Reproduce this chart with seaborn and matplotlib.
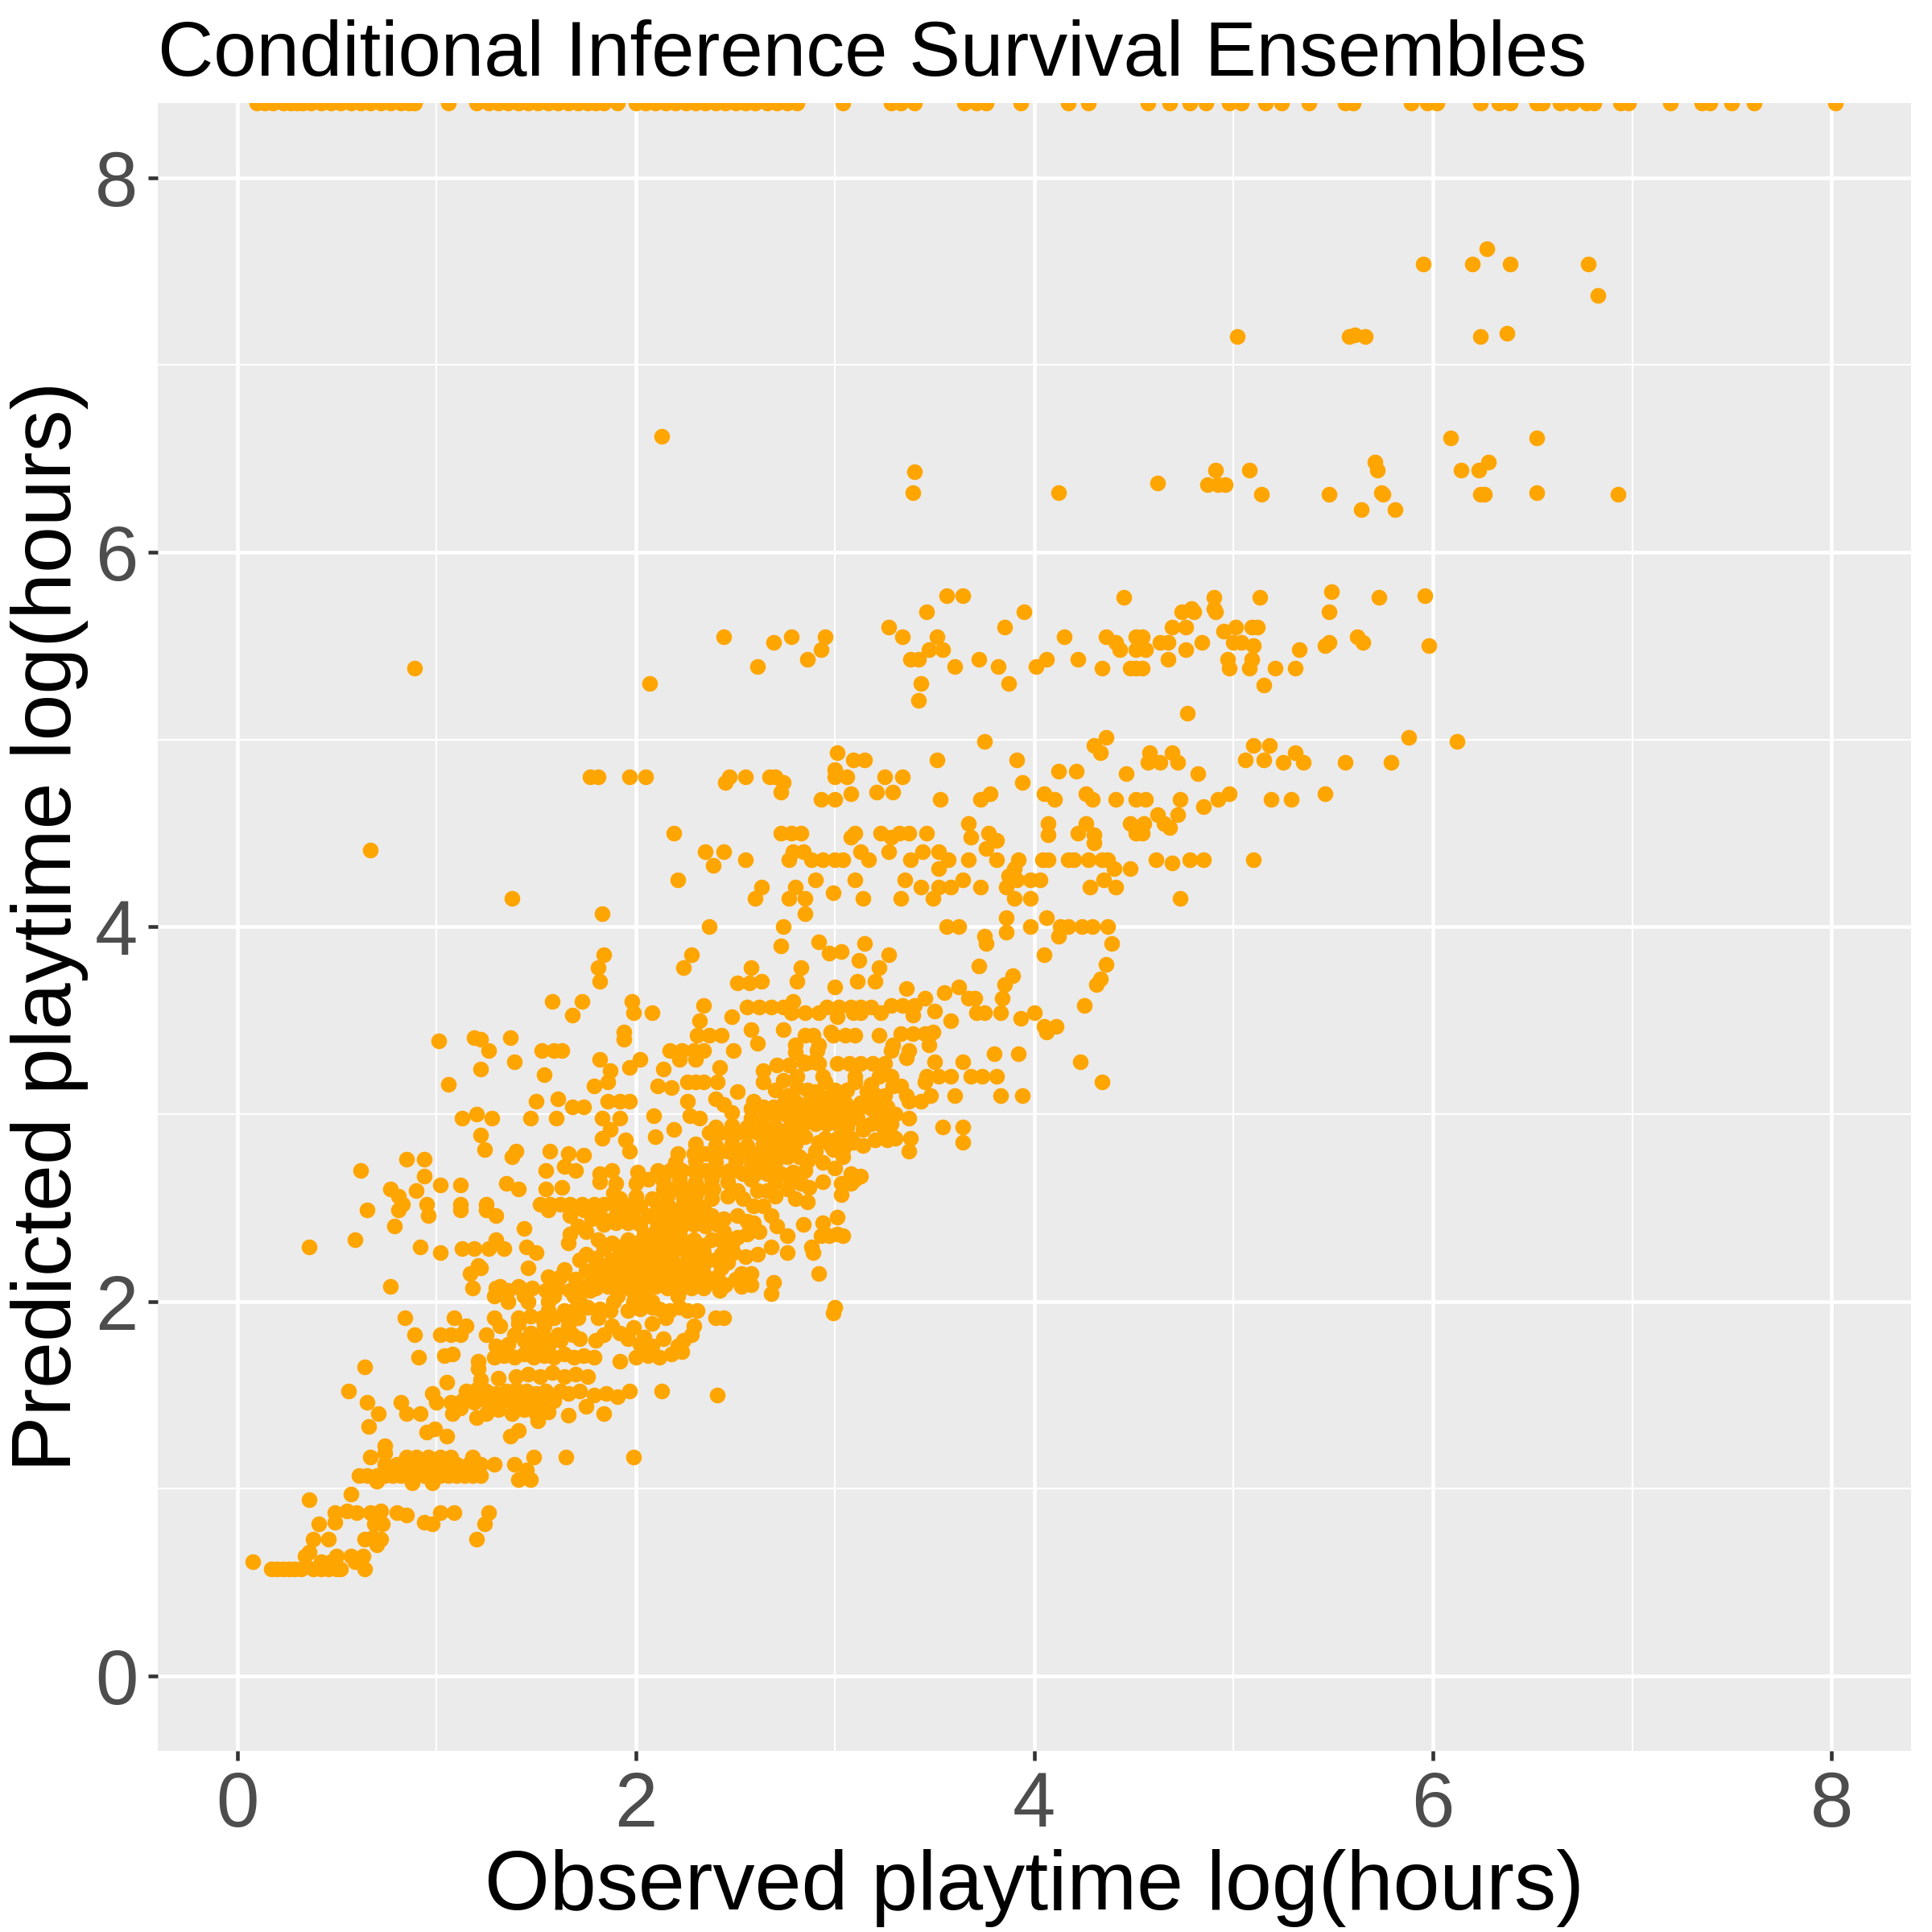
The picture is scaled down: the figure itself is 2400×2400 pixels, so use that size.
import matplotlib
matplotlib.use("Agg")
import matplotlib.pyplot as plt
import seaborn as sns
import pandas as pd

# predictions that ran past the top of the scale (drawn squished at the edge)
capped_pred = 8.4
capped_obs = [0.10, 0.14, 0.18, 0.23, 0.27, 0.30, 0.33, 0.37, 0.42, 0.47, 0.52, 0.57, 0.62,
              0.67, 0.72, 0.77, 0.82, 0.86, 0.89, 1.06, 1.20, 1.26, 1.31, 1.36, 1.41, 1.46,
              1.51, 1.56, 1.61, 1.66, 1.71, 1.76, 1.80, 1.84, 1.91, 2.00, 2.05, 2.10, 2.15,
              2.20, 2.25, 2.30, 2.35, 2.40, 2.45, 2.50, 2.55, 2.60, 2.66, 2.71, 2.76, 2.81,
              3.04, 3.28, 3.33, 3.40, 3.65, 3.71, 3.76, 3.93, 4.17, 4.27, 4.57, 4.68, 4.78,
              4.86, 4.98, 5.04, 5.16, 5.24, 5.38, 5.56, 5.60, 5.89, 5.97, 6.02, 6.24, 6.33,
              6.39, 6.52, 6.55, 6.64, 6.70, 6.77, 6.81, 6.94, 6.98, 7.19, 7.35, 7.39, 7.50,
              7.61, 8.02]

# (observed, predicted) pairs, grouped by rough predicted level
low_pts = [
    (0.08, 0.61), (0.17, 0.57), (0.20, 0.57), (0.23, 0.57), (0.26, 0.57), (0.29, 0.57),
    (0.32, 0.57), (0.38, 0.57), (0.42, 0.57), (0.46, 0.57), (0.50, 0.57), (0.52, 0.57),
    (0.64, 0.57), (0.34, 0.64), (0.42, 0.61), (0.47, 0.61), (0.50, 0.64), (0.57, 0.64),
    (0.59, 0.61), (0.63, 0.64), (0.36, 0.66), (0.38, 0.73), (0.46, 0.73), (0.64, 0.73),
    (0.68, 0.74), (0.72, 0.73), (0.70, 0.70), (1.20, 0.73), (0.41, 0.81), (0.49, 0.82),
    (0.69, 0.81), (0.73, 0.81), (0.94, 0.82), (0.98, 0.81), (1.24, 0.81), (0.49, 0.87),
    (0.55, 0.88), (0.60, 0.87), (0.67, 0.87), (0.72, 0.88), (0.80, 0.87), (0.85, 0.86),
    (1.02, 0.87), (1.09, 0.87), (1.26, 0.87), (0.36, 0.94), (0.57, 0.97),
]

lower_pts = [
    (0.61, 1.07), (0.65, 1.07), (0.70, 1.07), (0.74, 1.07), (0.78, 1.07), (0.82, 1.07),
    (0.86, 1.07), (0.90, 1.07), (0.94, 1.07), (0.98, 1.07), (1.02, 1.07), (1.06, 1.07),
    (1.10, 1.07), (1.14, 1.07), (1.18, 1.07), (1.22, 1.07), (1.41, 1.05), (1.47, 1.05),
    (0.70, 1.04), (0.88, 1.03), (0.98, 1.03), (0.74, 1.13), (0.80, 1.13), (0.86, 1.13),
    (0.92, 1.13), (0.98, 1.13), (1.04, 1.13), (1.10, 1.13), (1.16, 1.13), (1.22, 1.13),
    (1.29, 1.13), (1.39, 1.13), (1.45, 1.10), (0.67, 1.17), (0.74, 1.19), (0.85, 1.17),
    (0.90, 1.17), (0.96, 1.17), (1.02, 1.17), (1.07, 1.17), (1.18, 1.17), (1.49, 1.17),
    (1.65, 1.17), (1.99, 1.17), (0.74, 1.23), (0.95, 1.30), (0.99, 1.32), (1.05, 1.28),
    (1.37, 1.28), (1.41, 1.31), (0.66, 1.33), (1.51, 1.36), (0.71, 1.40), (0.85, 1.40),
    (0.92, 1.40), (1.08, 1.40), (1.20, 1.38), (1.25, 1.40), (1.31, 1.42), (1.38, 1.40),
    (1.44, 1.42), (1.50, 1.40), (1.56, 1.41), (1.66, 1.39), (1.84, 1.40), (1.12, 1.43),
    (0.65, 1.46), (0.82, 1.46), (1.00, 1.46), (1.07, 1.46), (1.13, 1.47), (1.19, 1.46),
    (1.25, 1.47), (1.31, 1.46), (1.37, 1.47), (1.43, 1.46), (1.49, 1.45), (1.55, 1.46),
    (1.59, 1.47), (1.75, 1.44), (0.56, 1.52), (0.98, 1.51), (1.15, 1.52), (1.20, 1.53),
    (1.25, 1.52), (1.30, 1.51), (1.35, 1.52), (1.40, 1.53), (1.45, 1.52), (1.50, 1.51),
    (1.55, 1.52), (1.62, 1.52), (1.66, 1.51), (1.72, 1.52), (1.79, 1.50), (1.85, 1.51),
    (1.91, 1.49), (1.97, 1.52), (2.13, 1.52), (2.41, 1.50), (1.05, 1.57), (1.22, 1.58),
    (1.31, 1.59), (0.64, 1.65), (1.21, 1.64), (0.91, 1.70), (1.04, 1.71), (1.08, 1.72),
    (1.21, 1.68), (1.29, 1.70), (1.34, 1.71), (1.39, 1.70), (1.44, 1.72), (1.49, 1.70),
    (1.54, 1.71), (1.59, 1.70), (1.64, 1.72), (1.69, 1.70), (1.74, 1.71), (1.79, 1.70),
    (1.92, 1.68), (2.00, 1.70), (2.06, 1.71), (2.12, 1.70), (2.18, 1.72), (2.23, 1.73),
    (1.30, 1.76), (1.36, 1.77), (1.50, 1.76), (1.56, 1.76), (2.02, 1.77), (2.08, 1.76),
    (2.21, 1.76), (0.89, 1.82), (1.02, 1.82), (1.07, 1.82), (1.12, 1.82), (1.25, 1.82),
    (1.39, 1.82), (1.47, 1.83), (1.54, 1.81), (1.61, 1.82), (1.68, 1.82), (1.84, 1.82),
    (1.92, 1.83), (2.28, 1.82), (1.15, 1.87), (1.32, 1.87), (1.41, 1.88), (1.54, 1.87),
    (1.66, 1.87), (1.88, 1.87), (1.99, 1.86), (2.08, 1.88), (2.29, 1.87), (0.84, 1.91),
    (1.09, 1.91), (1.29, 1.91), (1.41, 1.91), (1.47, 1.92), (1.53, 1.91), (1.59, 1.91),
    (1.65, 1.92), (1.71, 1.91), (1.81, 1.91), (2.15, 1.91), (2.40, 1.91), (2.44, 1.91),
    (1.56, 1.95), (1.64, 1.95), (1.87, 1.95), (1.96, 1.95), (2.17, 1.95), (2.26, 1.95),
    (2.31, 1.95), (2.99, 1.94), (3.00, 1.97),
]

lower_fill = [
    (1.40, 1.60), (1.46, 1.61), (1.52, 1.60), (1.58, 1.62), (1.64, 1.60), (1.70, 1.61),
    (1.76, 1.60), (1.44, 1.79), (1.52, 1.80), (1.62, 1.79), (1.72, 1.80), (1.80, 1.79),
    (1.96, 1.80), (2.04, 1.81), (2.14, 1.80), (2.24, 1.79), (1.70, 1.96), (1.76, 1.97),
    (1.82, 1.96), (2.02, 1.96), (2.08, 1.97), (2.12, 1.96), (2.22, 1.97),
]

core_pts = [
    (1.36, 2.00), (1.46, 2.00), (1.56, 2.00), (1.72, 2.00), (1.89, 2.00), (1.99, 2.00),
    (2.08, 2.00), (1.29, 2.03), (1.44, 2.03), (1.59, 2.03), (1.69, 2.03), (1.91, 2.03),
    (2.04, 2.03), (2.21, 2.03), (1.18, 2.07), (1.30, 2.07), (1.36, 2.06), (1.42, 2.07),
    (1.48, 2.07), (1.55, 2.06), (1.61, 2.07), (1.67, 2.06), (1.73, 2.07), (1.77, 2.06),
    (1.80, 2.07), (1.86, 2.08), (1.92, 2.07), (1.98, 2.06), (2.04, 2.07), (2.10, 2.08),
    (2.16, 2.07), (2.22, 2.06), (2.28, 2.07), (2.34, 2.07), (2.42, 2.06), (2.68, 2.04),
    (0.77, 2.08), (1.32, 2.08), (1.41, 2.08), (2.39, 2.10), (2.45, 2.09), (2.53, 2.08),
    (2.58, 2.09), (2.50, 2.12), (2.69, 2.10), (1.17, 2.15), (1.22, 2.18), (1.46, 2.18),
    (1.56, 2.13), (1.62, 2.13), (1.64, 2.17), (1.75, 2.16), (1.81, 2.15), (1.87, 2.16),
    (1.93, 2.17), (1.99, 2.15), (2.05, 2.16), (2.11, 2.16), (2.17, 2.15), (2.23, 2.17),
    (2.29, 2.16), (2.34, 2.15), (2.43, 2.18), (2.53, 2.15), (2.58, 2.15), (2.92, 2.15),
    (2.41, 2.13), (1.21, 2.19), (1.79, 2.18), (1.85, 2.19), (1.91, 2.18), (1.97, 2.19),
    (2.03, 2.18), (2.09, 2.19), (2.15, 2.18), (2.21, 2.19), (2.27, 2.18), (2.33, 2.19),
    (0.36, 2.29), (0.59, 2.33), (0.79, 2.40), (0.92, 2.29), (1.13, 2.28), (1.19, 2.28),
    (1.26, 2.28), (1.34, 2.28), (1.45, 2.29), (1.50, 2.26), (1.66, 2.31), (1.75, 2.25),
    (1.84, 2.28), (1.92, 2.27), (1.98, 2.26), (2.04, 2.28), (2.10, 2.27), (2.16, 2.26),
    (2.22, 2.28), (2.28, 2.27), (2.34, 2.26), (2.43, 2.25), (2.49, 2.26), (2.55, 2.24),
    (2.61, 2.25), (2.68, 2.29), (2.76, 2.26), (2.89, 2.26), (2.88, 2.29), (2.02, 2.22),
    (2.12, 2.23), (2.26, 2.22), (2.35, 2.21), (1.02, 2.26), (1.44, 2.39), (1.67, 2.36),
    (1.75, 2.37), (1.84, 2.41), (1.90, 2.42), (1.96, 2.42), (2.02, 2.41), (2.11, 2.40),
    (2.17, 2.39), (2.23, 2.40), (2.29, 2.41), (2.35, 2.40), (2.41, 2.41), (2.51, 2.34),
    (2.59, 2.42), (2.71, 2.40), (2.76, 2.35), (2.84, 2.41), (2.94, 2.42), (3.01, 2.45),
    (3.01, 2.36), (2.93, 2.35), (2.97, 2.35), (3.04, 2.35), (1.81, 2.33), (1.96, 2.33),
    (2.16, 2.33), (2.29, 2.33), (2.38, 2.33), (1.30, 2.33), (1.71, 2.40), (0.96, 2.46),
    (1.30, 2.46), (1.67, 2.46), (1.82, 2.46), (1.90, 2.46), (1.98, 2.46), (2.06, 2.46),
    (2.14, 2.46), (2.22, 2.46), (2.30, 2.46), (2.38, 2.46), (0.65, 2.49), (0.81, 2.49),
    (1.12, 2.49), (1.25, 2.49), (1.56, 2.49), (1.74, 2.49), (0.83, 2.52), (0.95, 2.52),
    (1.12, 2.52), (1.25, 2.52), (1.52, 2.52), (1.57, 2.52), (1.62, 2.52), (1.67, 2.52),
    (1.73, 2.52), (1.79, 2.52), (1.84, 2.52), (1.90, 2.51), (1.96, 2.51), (2.02, 2.51),
    (2.11, 2.50), (2.17, 2.50), (2.23, 2.50), (2.29, 2.50), (2.34, 2.50), (2.51, 2.46),
    (2.59, 2.51), (2.64, 2.51), (2.86, 2.53), (2.68, 2.46), (0.62, 2.70), (0.77, 2.60),
    (0.81, 2.56), (0.90, 2.59), (1.02, 2.62), (1.12, 2.62), (1.35, 2.63), (1.41, 2.60),
    (1.55, 2.60), (1.63, 2.61), (1.82, 2.64), (1.90, 2.63), (2.00, 2.63), (1.89, 2.58),
    (2.14, 2.60), (2.20, 2.60), (2.26, 2.60), (2.32, 2.60), (2.39, 2.60), (2.51, 2.59),
    (2.61, 2.59), (2.76, 2.60), (2.87, 2.61), (3.03, 2.63), (3.10, 2.65), (3.03, 2.57),
    (2.66, 2.59), (2.83, 2.63), (3.08, 2.63), (0.94, 2.67), (1.55, 2.70), (1.64, 2.72),
    (1.70, 2.70), (1.82, 2.68), (1.88, 2.70), (2.01, 2.69), (2.11, 2.70), (2.17, 2.70),
    (2.23, 2.70), (2.29, 2.70), (2.35, 2.70), (2.41, 2.70), (2.47, 2.70), (2.51, 2.70),
    (2.54, 2.68), (2.60, 2.68), (2.66, 2.68), (2.73, 2.68), (2.79, 2.69), (2.85, 2.70),
    (3.00, 2.71), (3.13, 2.67), (3.08, 2.68), (0.85, 2.76), (0.94, 2.76), (1.38, 2.77),
    (1.24, 2.81), (1.40, 2.80), (1.57, 2.80), (1.66, 2.79), (1.74, 2.78), (1.97, 2.80),
    (2.21, 2.79), (2.29, 2.79), (2.35, 2.79), (2.41, 2.79), (2.46, 2.80), (2.51, 2.80),
    (2.55, 2.80), (2.59, 2.79), (2.65, 2.79), (2.71, 2.79), (2.78, 2.79), (2.90, 2.80),
    (3.01, 2.81), (3.37, 2.80), (2.68, 2.81), (2.74, 2.81), (2.99, 2.81), (3.04, 2.81),
    (2.76, 2.77), (2.82, 2.77), (3.04, 2.77), (1.22, 2.89), (1.87, 2.92), (1.95, 2.86),
    (1.83, 2.87), (2.10, 2.88), (2.19, 2.92), (2.37, 2.90), (2.42, 2.90), (2.46, 2.90),
    (2.51, 2.90), (2.56, 2.90), (2.61, 2.90), (2.68, 2.88), (2.74, 2.88), (2.80, 2.88),
    (2.85, 2.88), (2.95, 2.87), (3.01, 2.87), (3.08, 2.87), (3.20, 2.86), (3.26, 2.86),
    (3.30, 2.87), (3.38, 2.87), (2.92, 2.85), (3.09, 2.85), (3.64, 2.85), (3.29, 2.88),
    (3.54, 2.93), (3.64, 2.93), (1.13, 2.98), (1.20, 3.00), (1.28, 2.98), (1.47, 2.98),
    (1.60, 2.98), (1.83, 2.98), (1.92, 2.98), (2.09, 2.99), (2.27, 2.99), (2.32, 2.98),
    (2.48, 3.01), (2.58, 2.98), (2.78, 2.95), (2.84, 2.95), (2.90, 2.95), (2.96, 2.95),
    (3.01, 2.95), (3.11, 2.98), (3.18, 2.95), (3.28, 2.95), (3.37, 2.98), (2.65, 3.00),
    (2.70, 3.00), (2.75, 3.00), (2.80, 3.00), (2.85, 3.00), (2.90, 3.00), (2.95, 3.00),
    (3.00, 3.00), (3.06, 3.00), (3.23, 3.00), (3.30, 3.00), (1.68, 3.04), (1.74, 3.04),
    (2.58, 3.03), (2.69, 3.04), (2.95, 3.03), (3.12, 3.03), (1.50, 3.07), (1.61, 3.08),
    (1.86, 3.07), (1.92, 3.07), (1.97, 3.07), (2.26, 3.07), (2.40, 3.08), (2.44, 3.05),
    (2.51, 3.12), (2.59, 3.07), (2.75, 3.07), (2.81, 3.06), (2.87, 3.06), (2.93, 3.06),
    (2.99, 3.06), (3.05, 3.06), (3.13, 3.06), (3.20, 3.06), (3.37, 3.07), (3.43, 3.07),
    (1.06, 3.16), (1.79, 3.15), (1.86, 3.17), (2.14, 3.24), (2.11, 3.15), (2.18, 3.14),
    (2.26, 3.17), (2.30, 3.17), (2.34, 3.17), (2.41, 3.17), (2.64, 3.17), (2.74, 3.18),
    (2.81, 3.14), (2.95, 3.17), (3.10, 3.17), (3.18, 3.16), (3.29, 3.15), (3.33, 3.15),
    (3.45, 3.17), (2.76, 3.10), (2.92, 3.10), (2.98, 3.10), (3.04, 3.10), (3.21, 3.10),
    (3.25, 3.10), (3.36, 3.10), (3.48, 3.10), (3.60, 3.10), (3.83, 3.10), (3.94, 3.10),
    (2.81, 3.20), (2.94, 3.20), (3.10, 3.20), (3.22, 3.20), (3.28, 3.20), (3.46, 3.20),
    (3.52, 3.20), (3.58, 3.20), (3.68, 3.20), (3.74, 3.20), (3.81, 3.20), (4.34, 3.17),
]

core_fill = [
    (1.70, 2.12), (1.78, 2.11), (1.84, 2.12), (1.90, 2.11), (1.96, 2.12), (2.02, 2.11),
    (2.08, 2.12), (2.14, 2.11), (2.20, 2.12), (2.26, 2.11), (2.32, 2.12), (2.38, 2.11),
    (1.72, 2.22), (1.80, 2.23), (1.88, 2.22), (1.94, 2.23), (2.08, 2.22), (2.18, 2.23),
    (2.30, 2.22), (2.40, 2.22), (2.46, 2.21), (1.88, 2.31), (1.94, 2.30), (2.00, 2.31),
    (2.06, 2.30), (2.12, 2.31), (2.20, 2.30), (2.26, 2.31), (2.34, 2.30), (2.44, 2.31),
    (2.48, 2.30), (2.04, 2.36), (2.10, 2.37), (2.22, 2.36), (2.44, 2.37), (2.56, 2.36),
    (2.62, 2.37), (1.78, 2.44), (1.86, 2.43), (1.94, 2.44), (2.00, 2.43), (2.10, 2.44),
    (2.18, 2.43), (2.26, 2.44), (2.34, 2.43), (2.44, 2.44), (2.56, 2.43), (1.92, 2.55),
    (2.00, 2.56), (2.08, 2.55), (2.16, 2.56), (2.24, 2.55), (2.30, 2.56), (2.38, 2.55),
    (2.46, 2.56), (2.54, 2.55), (2.70, 2.56), (2.80, 2.55), (2.06, 2.65), (2.14, 2.64),
    (2.22, 2.65), (2.30, 2.64), (2.38, 2.65), (2.46, 2.64), (2.58, 2.65), (2.70, 2.64),
    (2.78, 2.65), (2.94, 2.64), (2.20, 2.74), (2.30, 2.75), (2.40, 2.74), (2.50, 2.75),
    (2.58, 2.74), (2.64, 2.75), (2.70, 2.74), (2.86, 2.75), (2.94, 2.74), (2.30, 2.84),
    (2.40, 2.83), (2.48, 2.84), (2.56, 2.83), (2.64, 2.84), (2.72, 2.83), (2.80, 2.84),
    (2.98, 2.83), (3.06, 2.84), (3.14, 2.83), (2.40, 2.93), (2.48, 2.94), (2.56, 2.93),
    (2.64, 2.94), (2.70, 2.93), (2.76, 2.92), (2.82, 2.93), (3.06, 2.93), (3.14, 2.92),
    (3.24, 2.93), (2.64, 3.04), (2.78, 3.04), (2.84, 3.03), (2.90, 3.04), (3.18, 3.03),
    (3.26, 3.04), (2.70, 3.13), (2.86, 3.13), (2.90, 3.12), (3.00, 3.13), (3.06, 3.13),
    (3.16, 3.12),
]

mid_pts = [
    (1.22, 3.24), (1.54, 3.21), (1.82, 3.29), (1.87, 3.23), (1.97, 3.25), (2.02, 3.29),
    (2.22, 3.29), (2.30, 3.29), (2.42, 3.25), (2.64, 3.23), (2.71, 3.26), (2.77, 3.26),
    (2.85, 3.27), (2.92, 3.27), (3.01, 3.27), (3.07, 3.27), (3.13, 3.27), (3.19, 3.27),
    (3.25, 3.27), (3.36, 3.30), (2.84, 3.28), (2.89, 3.28), (3.50, 3.28), (3.64, 3.28),
    (4.23, 3.28), (1.26, 3.34), (1.39, 3.28), (1.53, 3.34), (1.59, 3.34), (1.63, 3.34),
    (2.17, 3.34), (2.23, 3.34), (2.29, 3.34), (2.34, 3.34), (2.49, 3.34), (2.80, 3.33),
    (2.91, 3.34), (3.28, 3.34), (3.37, 3.34), (3.80, 3.32), (3.92, 3.32), (1.01, 3.39),
    (1.19, 3.41), (1.22, 3.40), (1.37, 3.41), (1.94, 3.44), (1.94, 3.40), (2.31, 3.42),
    (2.37, 3.42), (2.43, 3.42), (2.58, 3.45), (2.61, 3.38), (2.74, 3.45), (2.85, 3.42),
    (2.89, 3.42), (2.99, 3.42), (3.05, 3.42), (3.10, 3.42), (3.22, 3.42), (3.33, 3.43),
    (3.39, 3.43), (3.45, 3.43), (2.80, 3.37), (2.92, 3.37), (3.29, 3.37), (3.47, 3.37),
    (2.98, 3.44), (3.49, 3.44), (4.06, 3.44), (4.11, 3.47), (1.68, 3.53), (1.99, 3.54),
    (2.08, 3.54), (2.32, 3.50), (2.48, 3.52), (2.78, 3.54), (2.85, 3.54), (2.92, 3.54),
    (3.01, 3.52), (3.09, 3.54), (3.13, 3.54), (3.23, 3.54), (3.39, 3.53), (3.50, 3.55),
    (3.58, 3.50), (3.71, 3.54), (3.75, 3.54), (3.83, 3.54), (4.00, 3.54), (3.93, 3.51),
    (4.05, 3.47), (1.58, 3.60), (1.73, 3.60), (1.98, 3.60), (2.34, 3.58), (2.56, 3.57),
    (2.62, 3.57), (2.68, 3.57), (2.74, 3.57), (2.79, 3.60), (2.96, 3.57), (3.02, 3.57),
    (3.08, 3.57), (3.13, 3.57), (3.18, 3.57), (3.28, 3.58), (3.34, 3.58), (3.40, 3.58),
    (3.45, 3.62), (3.55, 3.65), (4.25, 3.58), (3.67, 3.62), (3.70, 3.62), (3.84, 3.62),
    (1.82, 3.71), (2.51, 3.70), (2.57, 3.70), (2.63, 3.71), (2.81, 3.71), (3.00, 3.68),
    (3.11, 3.71), (3.20, 3.71), (3.36, 3.67), (3.62, 3.68), (3.85, 3.69), (4.31, 3.69),
    (4.33, 3.72), (3.89, 3.74), (1.81, 3.78), (2.24, 3.78), (2.58, 3.78), (2.83, 3.78),
    (3.12, 3.82), (3.22, 3.78), (3.72, 3.79), (1.84, 3.85), (2.28, 3.85), (3.27, 3.85),
    (4.05, 3.85), (4.36, 3.80), (2.73, 3.90), (2.92, 3.92), (2.97, 3.86), (3.03, 3.87),
    (3.15, 3.91), (3.76, 3.91), (4.39, 3.91), (3.75, 3.95), (4.12, 3.95), (3.86, 3.97),
    (2.37, 4.00), (2.74, 4.00), (3.56, 4.00), (3.62, 4.00), (3.98, 4.00), (4.13, 4.00),
    (4.17, 4.00), (4.24, 4.00), (4.29, 4.00), (4.37, 4.00), (3.86, 4.05), (4.06, 4.05),
    (1.83, 4.07), (2.85, 4.07),
]

upper_pts = [
    (1.38, 4.15), (2.60, 4.15), (2.77, 4.15), (2.85, 4.15), (3.14, 4.15), (3.33, 4.15),
    (3.49, 4.15), (3.90, 4.15), (3.98, 4.15), (4.73, 4.15), (2.99, 4.18), (2.63, 4.21),
    (2.80, 4.21), (3.43, 4.21), (3.52, 4.21), (3.58, 4.21), (3.73, 4.21), (3.86, 4.21),
    (4.28, 4.21), (4.41, 4.21), (2.21, 4.25), (2.90, 4.25), (3.10, 4.25), (3.35, 4.25),
    (3.64, 4.25), (3.91, 4.25), (3.98, 4.25), (4.03, 4.25), (4.35, 4.25), (3.87, 4.27),
    (3.52, 4.31), (3.90, 4.31), (4.40, 4.31), (4.48, 4.31), (2.39, 4.33), (4.69, 4.34),
    (2.55, 4.36), (2.77, 4.36), (2.88, 4.36), (2.94, 4.36), (3.00, 4.36), (3.04, 4.36),
    (3.17, 4.36), (3.38, 4.36), (3.57, 4.36), (3.67, 4.36), (3.81, 4.36), (3.92, 4.36),
    (4.04, 4.36), (4.07, 4.36), (4.17, 4.36), (4.20, 4.36), (4.27, 4.36), (4.34, 4.36),
    (4.37, 4.36), (4.61, 4.36), (4.78, 4.36), (4.85, 4.36), (5.10, 4.36), (2.35, 4.40),
    (2.44, 4.40), (2.79, 4.40), (2.84, 4.40), (3.13, 4.40), (3.27, 4.40), (3.44, 4.40),
    (3.52, 4.40), (3.76, 4.42), (3.81, 4.46), (4.30, 4.45), (2.19, 4.50), (2.73, 4.50),
    (2.78, 4.50), (2.83, 4.50), (3.10, 4.50), (3.23, 4.50), (3.32, 4.50), (3.37, 4.50),
    (3.46, 4.50), (3.77, 4.50), (3.08, 4.48), (3.28, 4.48), (3.68, 4.48), (4.22, 4.50),
    (4.51, 4.50), (4.54, 4.50), (4.07, 4.49), (4.30, 4.49), (3.67, 4.55), (4.07, 4.55),
    (4.26, 4.55), (4.48, 4.55), (4.55, 4.55), (4.65, 4.55), (4.68, 4.53), (4.62, 4.60),
    (4.72, 4.60), (4.85, 4.64), (2.93, 4.68), (3.00, 4.68), (3.53, 4.68), (3.73, 4.68),
    (4.10, 4.68), (4.29, 4.68), (4.41, 4.68), (4.51, 4.68), (4.56, 4.68), (4.73, 4.68),
    (4.92, 4.68), (5.19, 4.68), (5.29, 4.68), (2.73, 4.72), (3.21, 4.72), (3.29, 4.72),
    (3.08, 4.71), (3.78, 4.71), (4.05, 4.71), (4.26, 4.71), (4.98, 4.71), (5.46, 4.71),
    (2.45, 4.77), (2.74, 4.77), (3.94, 4.77), (1.77, 4.80), (1.81, 4.80), (1.97, 4.80),
    (2.05, 4.80), (2.47, 4.80), (2.55, 4.80), (2.67, 4.80), (2.70, 4.80), (3.00, 4.80),
    (3.06, 4.80), (3.25, 4.80), (3.34, 4.80), (4.46, 4.82), (4.82, 4.82), (4.12, 4.83),
    (4.21, 4.83), (3.00, 4.84), (3.51, 4.89), (3.91, 4.89), (3.09, 4.89), (3.15, 4.89),
    (5.06, 4.89), (5.15, 4.89), (4.57, 4.88), (4.63, 4.88), (4.72, 4.88), (5.25, 4.88),
    (5.35, 4.88), (5.56, 4.88), (5.79, 4.88), (3.01, 4.93), (4.33, 4.93), (4.58, 4.93),
    (4.69, 4.93), (5.31, 4.93), (4.30, 4.97), (5.10, 4.97), (5.18, 4.97), (3.75, 4.99),
    (4.36, 5.01), (5.88, 5.01), (6.12, 4.99), (0.67, 4.41),
]

top_pts = [
    (3.42, 5.21), (4.77, 5.14), (2.07, 5.30), (3.43, 5.30), (3.87, 5.30), (5.15, 5.29),
    (0.89, 5.38), (2.61, 5.39), (3.60, 5.39), (3.82, 5.39), (4.01, 5.39), (4.34, 5.38),
    (4.48, 5.38), (4.51, 5.38), (4.54, 5.38), (4.98, 5.38), (5.08, 5.38), (5.21, 5.38),
    (5.31, 5.38), (2.86, 5.43), (3.38, 5.43), (3.42, 5.43), (3.72, 5.43), (4.06, 5.43),
    (4.22, 5.43), (4.67, 5.43), (4.97, 5.43), (5.09, 5.43), (2.93, 5.48), (3.47, 5.48),
    (3.54, 5.48), (4.43, 5.48), (4.51, 5.48), (4.56, 5.48), (4.76, 5.48), (5.33, 5.48),
    (5.10, 5.50), (5.46, 5.50), (5.98, 5.50), (2.69, 5.52), (4.41, 5.52), (4.63, 5.52),
    (4.67, 5.52), (4.84, 5.52), (5.00, 5.52), (5.04, 5.52), (5.48, 5.52), (5.65, 5.52),
    (2.44, 5.55), (2.78, 5.55), (2.95, 5.55), (3.34, 5.55), (3.51, 5.55), (4.15, 5.55),
    (4.36, 5.55), (4.51, 5.55), (4.54, 5.55), (5.62, 5.55), (4.95, 5.58), (3.27, 5.60),
    (3.85, 5.60), (4.69, 5.60), (4.76, 5.60), (5.01, 5.60), (5.09, 5.60), (5.12, 5.60),
    (3.46, 5.68), (3.95, 5.68), (4.74, 5.68), (4.80, 5.68), (4.91, 5.68), (5.48, 5.68),
    (4.79, 5.70), (4.90, 5.70), (3.56, 5.77), (3.64, 5.77), (4.45, 5.76), (4.90, 5.76),
    (5.13, 5.76), (5.73, 5.76), (5.49, 5.79), (5.96, 5.77),
]

outlier_pts = [
    (2.13, 6.62), (3.40, 6.43), (3.39, 6.32), (4.12, 6.32), (4.62, 6.37), (4.87, 6.36),
    (4.91, 6.44), (4.92, 6.36), (4.96, 6.36), (5.08, 6.44), (5.14, 6.31), (5.48, 6.31),
    (5.64, 6.23), (5.71, 6.48), (5.72, 6.44), (5.74, 6.32), (5.75, 6.31), (5.81, 6.23),
    (6.09, 6.61), (6.14, 6.44), (6.23, 6.44), (6.24, 6.31), (6.26, 6.31), (6.28, 6.48),
    (6.52, 6.61), (6.52, 6.32), (6.93, 6.31), (5.02, 7.15), (5.58, 7.15), (5.61, 7.16),
    (5.66, 7.15), (6.24, 7.15), (6.37, 7.17), (5.95, 7.54), (6.20, 7.54), (6.27, 7.62),
    (6.39, 7.54), (6.78, 7.54), (6.83, 7.37),
]

pairs = (low_pts + lower_pts + lower_fill + core_pts + core_fill + mid_pts
         + upper_pts + top_pts + outlier_pts)
df = pd.DataFrame(pairs, columns=["observed", "predicted"])
capped = pd.DataFrame({"observed": capped_obs, "predicted": capped_pred})
df = pd.concat([df, capped], ignore_index=True)

sns.set_theme(style="darkgrid")
plt.rcParams["font.family"] = ["Liberation Sans", "DejaVu Sans"]

fig = plt.figure(figsize=(8, 8), dpi=300)
ax = fig.add_axes([0.0815, 0.0938, 0.9077, 0.853])
ax.set_facecolor("#EBEBEB")

sns.scatterplot(data=df, x="observed", y="predicted", color="#FFA500", s=22,
                linewidth=0, ax=ax, zorder=3)

ax.set_xlim(-0.4, 8.4)
ax.set_ylim(-0.4, 8.4)
ax.set_xticks([0, 2, 4, 6, 8])
ax.set_yticks([0, 2, 4, 6, 8])
ax.set_xticks([1, 3, 5, 7], minor=True)
ax.set_yticks([1, 3, 5, 7], minor=True)
ax.grid(which="major", color="white", linewidth=1.1)
ax.grid(which="minor", color="white", linewidth=0.55)
ax.set_axisbelow(True)
for sp in ax.spines.values():
    sp.set_visible(False)

ax.tick_params(which="major", length=2.8, width=1.1, color="#333333",
               labelsize=23, labelcolor="#4D4D4D", pad=3)
ax.tick_params(which="minor", length=0)
ax.tick_params(axis="both", which="both", bottom=True, left=True)

ax.set_title("Conditional Inference Survival Ensembles", loc="left",
             fontsize=23, pad=8, color="black")
ax.set_xlabel("Observed playtime log(hours)", fontsize=25, labelpad=2, color="black")
ax.set_ylabel("Predicted playtime log(hours)", fontsize=25, labelpad=2, color="black")

fig.savefig("out.png", dpi=300, facecolor="white")
